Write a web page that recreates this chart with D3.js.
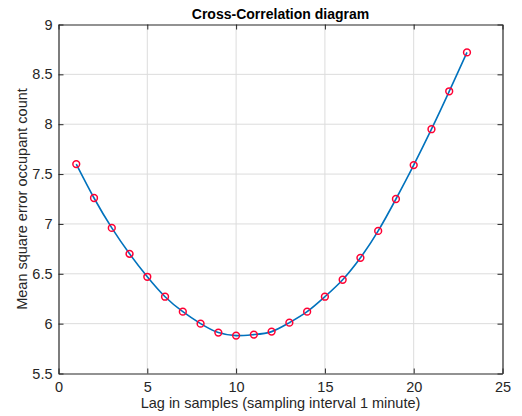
<!DOCTYPE html>
<html>
<head>
<meta charset="utf-8">
<script src="https://cdn.jsdelivr.net/npm/d3@7"></script>
<style>
body { margin: 0; background: #fff; }
</style>
</head>
<body>
<svg></svg>
<script>
var width = 522;
var height = 416;
var margin = {top: 24.5, right: 19.5, bottom: 42.5, left: 58.5};

var lags = [1,2,3,4,5,6,7,8,9,10,11,12,13,14,15,16,17,18,19,20,21,22,23];
var mse = [7.60,7.26,6.96,6.70,6.47,6.27,6.12,6.00,5.91,5.88,5.89,5.92,6.01,6.12,6.27,6.44,6.66,6.93,7.25,7.59,7.95,8.33,8.72];
var xTicks = [0,5,10,15,20,25];
var yTicks = [5.5,6,6.5,7,7.5,8,8.5,9];

var x = d3.scaleLinear()
    .domain([0, 25])
    .range([margin.left, width - margin.right]);

var y = d3.scaleLinear()
    .domain([5.5, 9])
    .range([height - margin.bottom, margin.top]);

const svg = d3.select('svg')
    .attr("width", width)
    .attr("height", height)
    .attr("font-family", "Liberation Sans, Arial, sans-serif");

// grid
svg.append("g")
    .selectAll("line")
    .data(xTicks.slice(1, -1))
    .join("line")
    .attr("x1", d => x(d)).attr("x2", d => x(d))
    .attr("y1", margin.top).attr("y2", height - margin.bottom)
    .attr("stroke", "#dcdcdc");

svg.append("g")
    .selectAll("line")
    .data(yTicks.slice(1, -1))
    .join("line")
    .attr("x1", margin.left).attr("x2", width - margin.right)
    .attr("y1", d => y(d)).attr("y2", d => y(d))
    .attr("stroke", "#dcdcdc");

// axes, matlab style: ticks pointing in, on all four sides
const fmt = d3.format("~g");
const xAxis = d3.axisBottom(x).tickValues(xTicks).tickFormat(fmt).tickSizeInner(-5).tickSizeOuter(0).tickPadding(8);
const yAxis = d3.axisLeft(y).tickValues(yTicks).tickFormat(fmt).tickSizeInner(-5).tickSizeOuter(0).tickPadding(6);

svg.append("g")
    .attr("transform", `translate(0,${height - margin.bottom})`)
    .call(xAxis);
svg.append("g")
    .attr("transform", `translate(${margin.left},0)`)
    .call(yAxis);
svg.append("g")
    .attr("transform", `translate(0,${margin.top})`)
    .call(d3.axisTop(x).tickValues(xTicks).tickSizeInner(-5).tickSizeOuter(0).tickFormat(""));
svg.append("g")
    .attr("transform", `translate(${width - margin.right},0)`)
    .call(d3.axisRight(y).tickValues(yTicks).tickSizeInner(-5).tickSizeOuter(0).tickFormat(""));

svg.selectAll(".domain").attr("stroke", "#262626").attr("stroke-width", 1.2);
svg.selectAll(".tick line").attr("stroke", "#262626");
svg.selectAll(".tick text").attr("font-size", 14.5).attr("fill", "#262626");

// curve
const line = d3.line()
    .x((d, i) => x(lags[i]))
    .y(d => y(d))
    .curve(d3.curveNatural);

svg.append("path")
    .datum(mse)
    .attr("fill", "none")
    .attr("stroke", "#0072BD")
    .attr("stroke-width", 1.6)
    .attr("d", line);

svg.append("g")
    .selectAll("circle")
    .data(mse)
    .join("circle")
    .attr("cx", (d, i) => x(lags[i]))
    .attr("cy", d => y(d))
    .attr("r", 3.4)
    .attr("fill", "none")
    .attr("stroke", "#ff0033")
    .attr("stroke-width", 1.5);

// labels
svg.append("text")
    .attr("x", (margin.left + width - margin.right) / 2)
    .attr("y", 19)
    .attr("text-anchor", "middle")
    .attr("font-size", 14)
    .attr("font-weight", "bold")
    .attr("fill", "#000")
    .text("Cross-Correlation diagram");

svg.append("text")
    .attr("x", (margin.left + width - margin.right) / 2)
    .attr("y", 408)
    .attr("text-anchor", "middle")
    .attr("font-size", 14.5)
    .attr("fill", "#262626")
    .text("Lag in samples (sampling interval 1 minute)");

svg.append("text")
    .attr("transform", `translate(27,${(margin.top + height - margin.bottom) / 2}) rotate(-90)`)
    .attr("text-anchor", "middle")
    .attr("font-size", 14.5)
    .attr("fill", "#262626")
    .text("Mean square error occupant count");
</script>
</body>
</html>
